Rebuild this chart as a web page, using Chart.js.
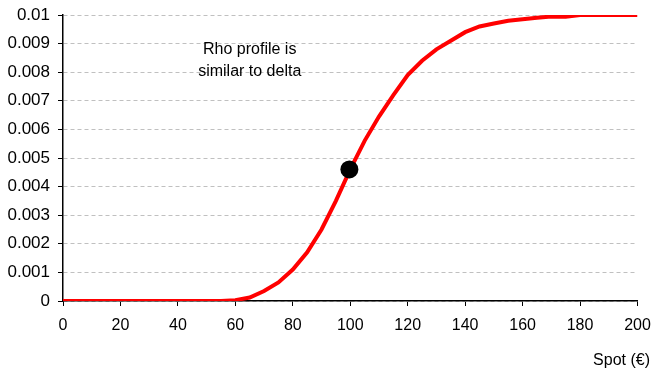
<!DOCTYPE html>
<html>
<head>
<meta charset="utf-8">
<script src="https://cdn.jsdelivr.net/npm/chart.js@4/dist/chart.umd.min.js"></script>
<style>
  html, body { margin: 0; padding: 0; background: #fff; }
  #wrap { width: 653px; height: 370px; }
</style>
</head>
<body>
<div id="wrap"><canvas id="rhoChart" width="653" height="370"></canvas></div>
<script>
// spot values (x) and rho
const spot = [0, 5, 10, 15, 20, 25, 30, 35, 40, 45, 50, 55, 60, 65, 70, 75, 80, 85, 90, 95,
              100, 105, 110, 115, 120, 125, 130, 135, 140, 145, 150, 155, 160, 165, 170, 175,
              180, 185, 190, 195, 200];
const rho = [0, 0, 0, 0, 0, 0, 0, 0, 0, 0, 0, 0, 0.00003, 0.00012, 0.00035, 0.00065, 0.0011, 0.0017, 0.0025, 0.0035,
             0.0046, 0.0056, 0.00645, 0.0072, 0.0079, 0.0084, 0.0088, 0.0091, 0.0094, 0.0096, 0.0097, 0.0098,
             0.00985, 0.0099, 0.00995, 0.00994, 0.01, 0.01, 0.01, 0.01, 0.01];

const markerX = [99.7];
const markerY = [0.0046];

const xTicks = [0, 20, 40, 60, 80, 100, 120, 140, 160, 180, 200];
const yTicks = [0, 0.001, 0.002, 0.003, 0.004, 0.005, 0.006, 0.007, 0.008, 0.009, 0.01];

const noteLines = ["Rho profile is", "similar to delta"];
const noteX = 65;
const noteY = [0.00878, 0.00802];
const xTitle = "Spot (\u20ac)";

const FONT = "'Liberation Sans', Arial, Helvetica, sans-serif";

const textPlugin = {
    id: "texts",
    afterDraw(chart) {
        const ctx = chart.ctx;
        const xs = chart.scales.x;
        const ys = chart.scales.y;
        ctx.save();
        ctx.fillStyle = "#000";
        ctx.font = "16px " + FONT;
        ctx.textAlign = "center";
        ctx.textBaseline = "middle";
        noteLines.forEach((line, i) => {
            ctx.fillText(line, xs.getPixelForValue(noteX), ys.getPixelForValue(noteY[i]));
        });
        ctx.textAlign = "right";
        ctx.fillText(xTitle, 650, 361);
        ctx.restore();
    }
};

// keep the plot box fixed: no extra room for overhanging tick labels
function noLabelPadding(scale) {
    scale.paddingLeft = 0;
    scale.paddingRight = 0;
    scale.paddingTop = 0;
    scale.paddingBottom = 0;
}

new Chart(document.getElementById("rhoChart").getContext("2d"), {
    type: "line",
    data: {
        datasets: [
            {
                label: "marker",
                data: markerX.map((x, i) => ({ x: x, y: markerY[i] })),
                showLine: false,
                pointRadius: 9,
                pointBackgroundColor: "#000",
                pointBorderColor: "#000",
                pointBorderWidth: 0
            },
            {
                label: "Rho",
                data: spot.map((x, i) => ({ x: x, y: rho[i] })),
                borderColor: "#ff0000",
                borderWidth: 4,
                pointRadius: 0,
                tension: 0,
                fill: false
            }
        ]
    },
    options: {
        responsive: false,
        animation: false,
        layout: { padding: { top: 15, right: 15.5, left: 0, bottom: 0 } },
        plugins: {
            legend: { display: false },
            tooltip: { enabled: false }
        },
        scales: {
            x: {
                type: "linear",
                min: 0,
                max: 200,
                afterFit(scale) { scale.height = 69; noLabelPadding(scale); },
                afterBuildTicks(scale) { scale.ticks = xTicks.map(v => ({ value: v })); },
                grid: { drawOnChartArea: false, drawTicks: true, tickLength: 5, tickColor: "#000" },
                border: { display: true, color: "#000", width: 1.5 },
                ticks: { color: "#000", font: { family: FONT, size: 16 }, padding: 10, maxRotation: 0 }
            },
            y: {
                type: "linear",
                min: 0,
                max: 0.01,
                afterFit(scale) { scale.width = 63; noLabelPadding(scale); },
                afterBuildTicks(scale) { scale.ticks = yTicks.map(v => ({ value: v })); },
                grid: { color: "#c0c0c0", lineWidth: 1, drawTicks: true, tickLength: 5, tickColor: "#000", tickBorderDash: [] },
                border: { display: true, color: "#000", width: 1.5, dash: [4, 3] },
                ticks: {
                    color: "#000",
                    font: { family: FONT, size: 17 },
                    padding: 8,
                    callback: v => String(Math.round(v * 1000) / 1000)
                }
            }
        }
    },
    plugins: [textPlugin]
});
</script>
</body>
</html>
